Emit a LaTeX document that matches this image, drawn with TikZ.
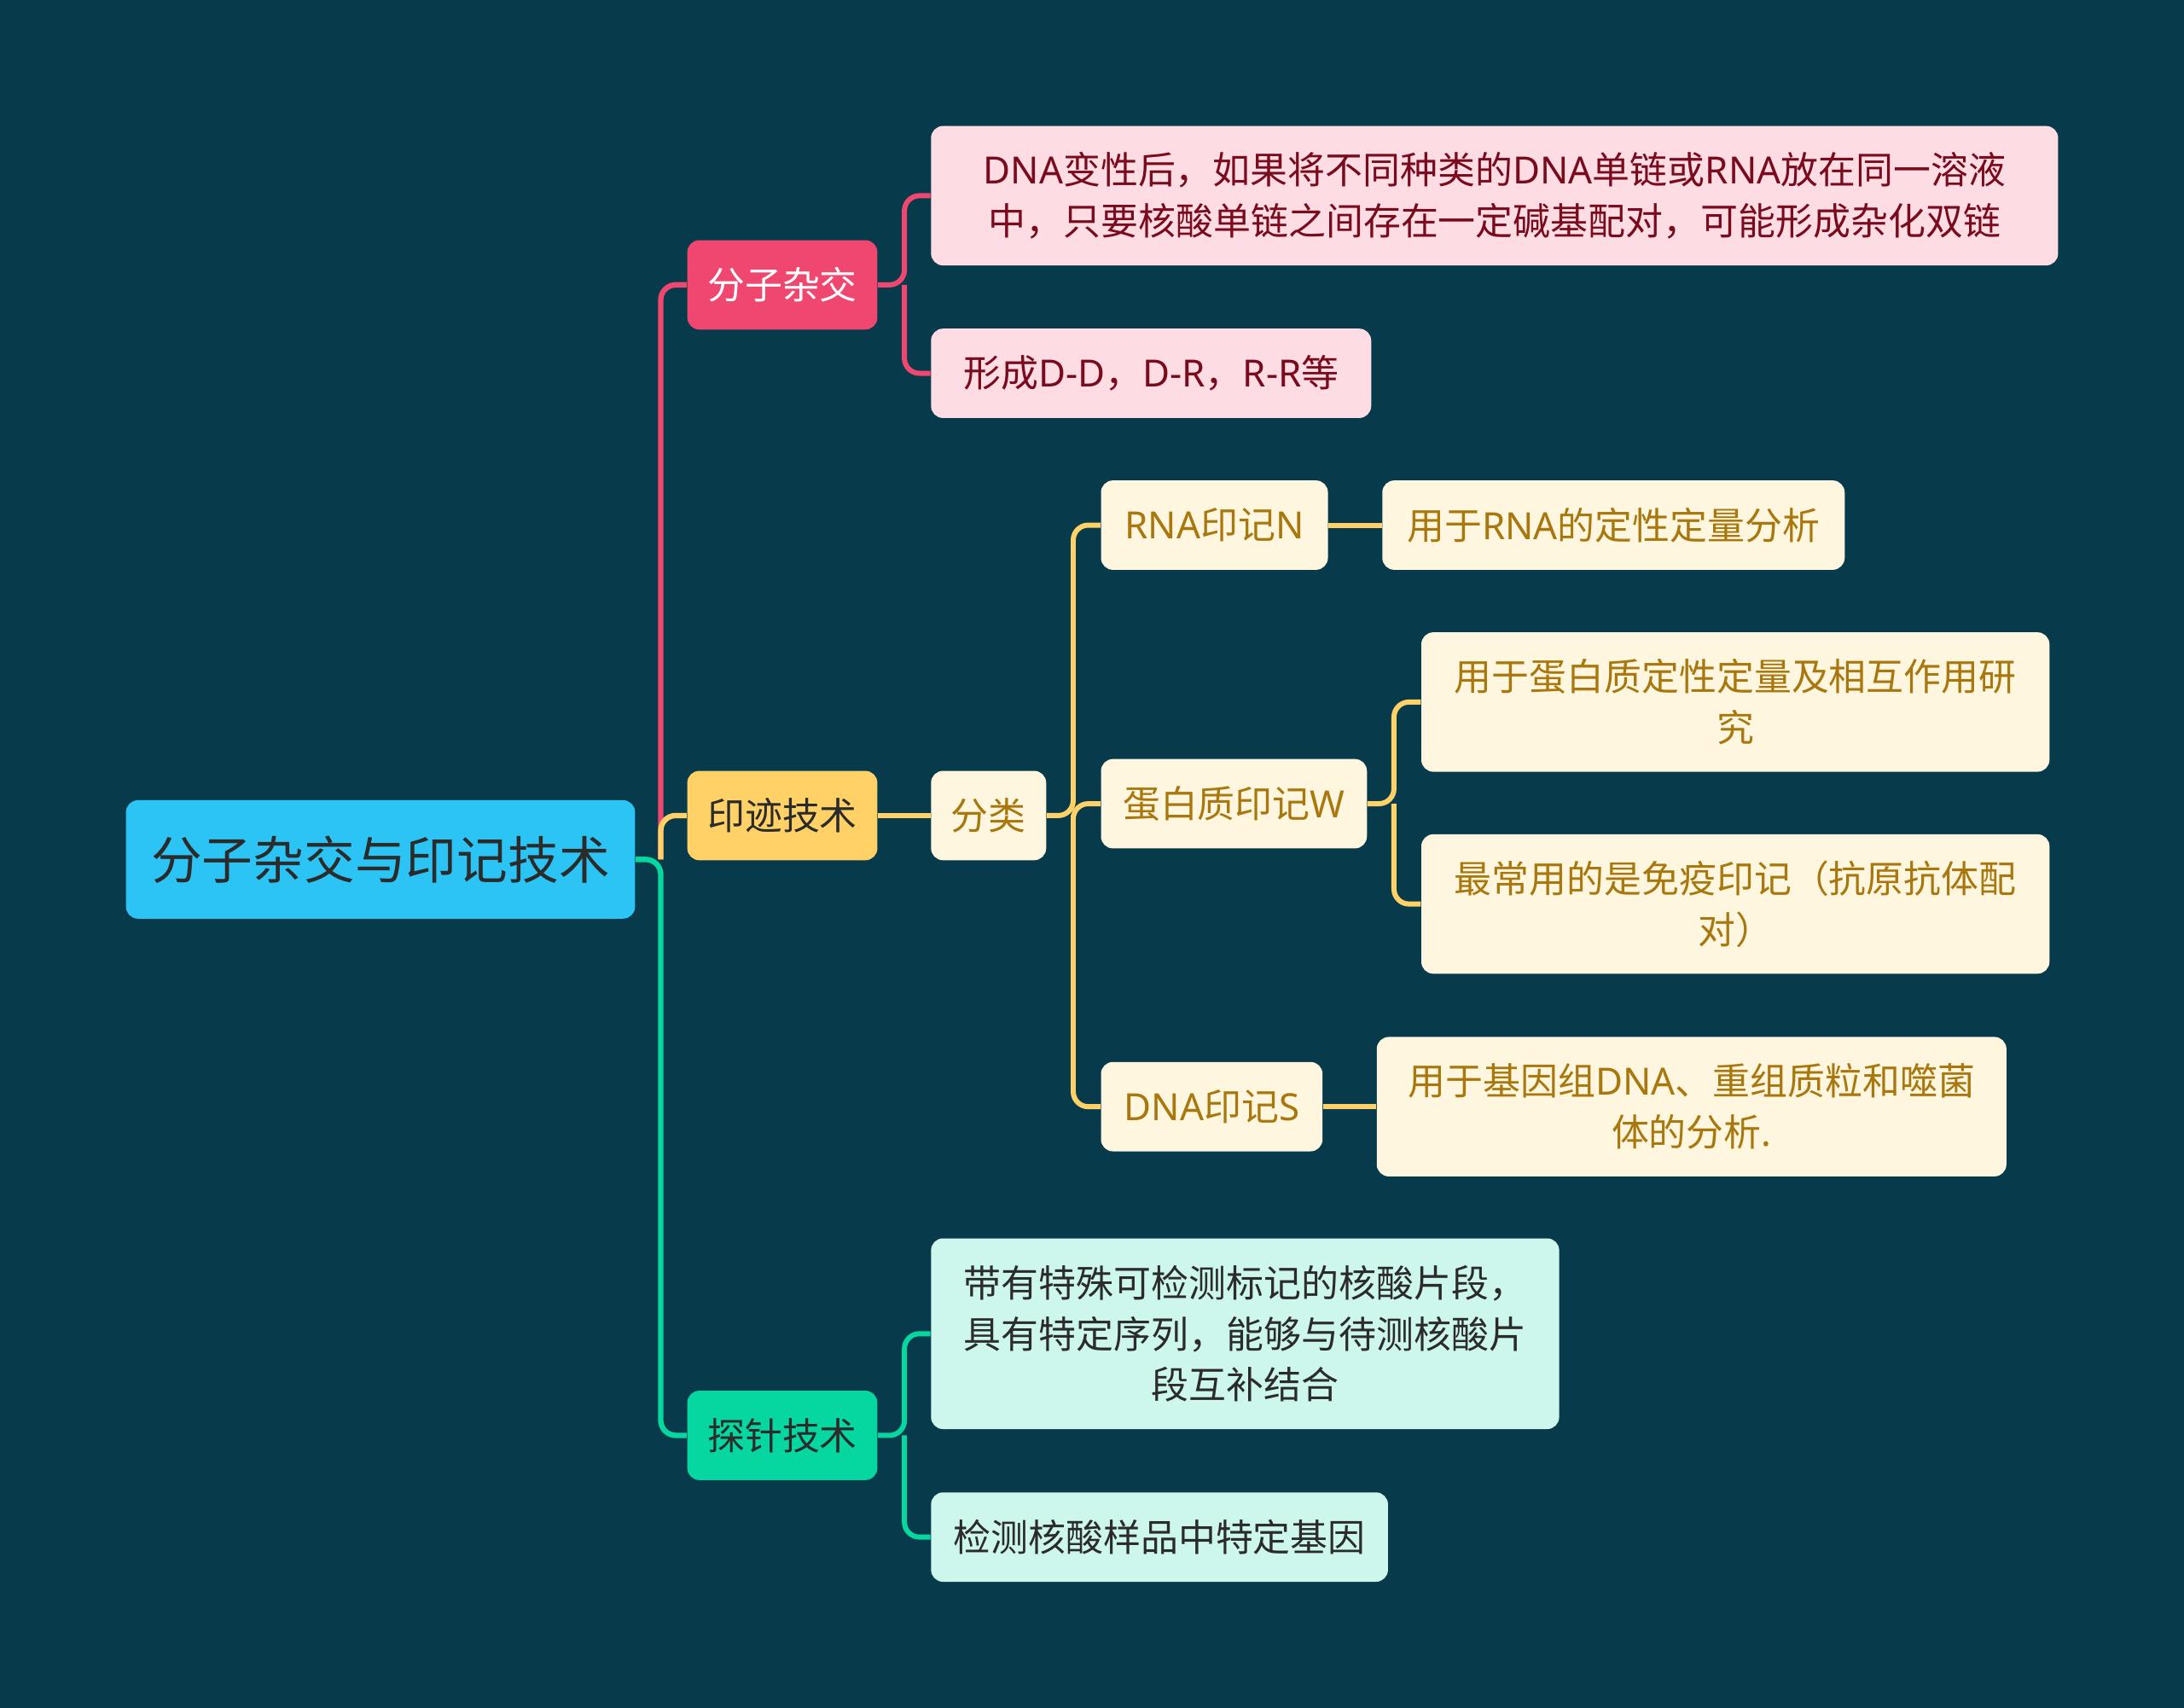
\documentclass[tikz,border=0pt]{standalone}
\usepackage{fontspec}
\setmainfont{Noto Sans CJK SC}
\newfontfamily\latinfont{Noto Sans}
\newcommand\lat[1]{{\latinfont #1}}
\usetikzlibrary{positioning}
\definecolor{bgnavy}{HTML}{073B4C}
\definecolor{rootblue}{HTML}{2CC4F4}
\definecolor{hybred}{HTML}{EF476F}
\definecolor{hybpale}{HTML}{FDDDE3}
\definecolor{hybtext}{HTML}{7A0A1E}
\definecolor{blotgold}{HTML}{FFD166}
\definecolor{blotpale}{HTML}{FFF6DF}
\definecolor{blottext}{HTML}{A8780E}
\definecolor{probegreen}{HTML}{06D6A0}
\definecolor{probepale}{HTML}{CDF7EC}
\definecolor{inkdark}{HTML}{2B2B2B}

\begin{document}
\begin{tikzpicture}[
    x=0.01633cm, y=-0.01633cm,
    box/.style={rectangle, rounded corners=4pt, fill=#1, anchor=west, align=center, inner xsep=6.7pt, inner ysep=0pt, minimum height=29.8pt, font=\fontsize{12.5}{17}\selectfont},
    box/.default=white,
    multi/.style={inner xsep=11pt},
    link/.style={draw=#1, line width=1.7pt, rounded corners=5pt},
    trunk/.style={draw=#1, line width=1.8pt, rounded corners=5pt}
]

% Background
\useasboundingbox (0,0) rectangle (1568,1226);
\fill[bgnavy] (0,0) rectangle (1568,1226);

% Root
\node[box=rootblue, minimum height=39.5pt, inner xsep=8.4pt, font=\fontsize{17}{20}\selectfont, text=inkdark] (root) at (90,617) {分子杂交与印记技术};

% First level
\node[box=hybred, text=white] (hyb) at (493,204.5) {分子杂交};
\node[box=blotgold, text=inkdark] (blot) at (493,585.5) {印迹技术};
\node[box=probegreen, text=inkdark] (probe) at (493,1030.5) {探针技术};

% Hybridisation leaves
\node[box=hybpale, multi, text=hybtext, minimum height=46.5pt, minimum width=375.9pt] (hybdef) at (668,140.5) {\lat{DNA}变性后，如果将不同种类的\lat{DNA}单链或\lat{RNA}放在同一溶液\\中，只要核酸单链之间存在一定碱基配对，可能形成杂化双链};
\node[box=hybpale, text=hybtext, minimum width=146.8pt] (hybtype) at (668,268) {形成\lat{D-D}，\lat{D-R}，\lat{R-R}等};

% Blotting
\node[box=blotpale, text=blottext] (kind) at (668,585.5) {分类};
\node[box=blotpale, text=blottext, minimum width=75.7pt] (north) at (790,377) {\lat{RNA}印记\lat{N}};
\node[box=blotpale, text=blottext, minimum width=154.2pt] (northuse) at (992,377) {用于\lat{RNA}的定性定量分析};
\node[box=blotpale, text=blottext, minimum width=88.7pt] (west) at (790,577) {蛋白质印记\lat{W}};
\node[box=blotpale, multi, text=blottext, minimum height=46.5pt] (westuse) at (1020,504) {用于蛋白质定性定量及相互作用研\\究};
\node[box=blotpale, multi, text=blottext, minimum height=46.5pt] (westimm) at (1020,649) {最常用的是免疫印记（抗原抗体配\\对）};
\node[box=blotpale, text=blottext, minimum width=73.9pt] (south) at (790,794.5) {\lat{DNA}印记\lat{S}};
\node[box=blotpale, multi, inner xsep=9pt, text=blottext, minimum height=46.5pt, minimum width=210pt] (southuse) at (988,794.5) {用于基因组\lat{DNA}、重组质粒和噬菌\\体的分析\lat{.}};

% Probe leaves
\node[box=probepale, multi, text=inkdark, minimum height=63.6pt] (probedef) at (668,957.5) {带有特殊可检测标记的核酸片段，\\具有特定序列，能够与待测核酸片\\段互补结合};
\node[box=probepale, text=inkdark, minimum width=152.4pt] (probeuse) at (668,1103.5) {检测核酸样品中特定基因};

% Main branches
\path (root.east) ++(18,0) coordinate (hub);
\draw[trunk=hybred] (hub) |- (hyb.west);
\draw[trunk=blotgold] (hub) |- (blot.west);
\draw[trunk=probegreen] (root.east) -- (hub) |- (probe.west);

% Hybridisation links
\path (hyb.east) ++(19,0) coordinate (hybfork);
\draw[link=hybred] (hyb.east) -- (hybfork) |- (hybdef.west);
\draw[link=hybred] (hybfork) |- (hybtype.west);

% Blotting links
\draw[link=blotgold] (blot.east) -- (kind.west);
\path (kind.east) ++(19,0) coordinate (kindfork);
\draw[link=blotgold] (kind.east) -- (kindfork) |- (north.west);
\draw[link=blotgold] (kindfork) |- (west.west);
\draw[link=blotgold] (kindfork) |- (south.west);
\draw[link=blotgold] (north.east) -- (northuse.west);
\path (west.east) ++(19,0) coordinate (westfork);
\draw[link=blotgold] (west.east) -- (westfork) |- (westuse.west);
\draw[link=blotgold] (westfork) |- (westimm.west);
\draw[link=blotgold] (south.east) -- (southuse.west);

% Probe links
\path (probe.east) ++(19,0) coordinate (probefork);
\draw[link=probegreen] (probe.east) -- (probefork) |- (probedef.west);
\draw[link=probegreen] (probefork) |- (probeuse.west);

\end{tikzpicture}
\end{document}
